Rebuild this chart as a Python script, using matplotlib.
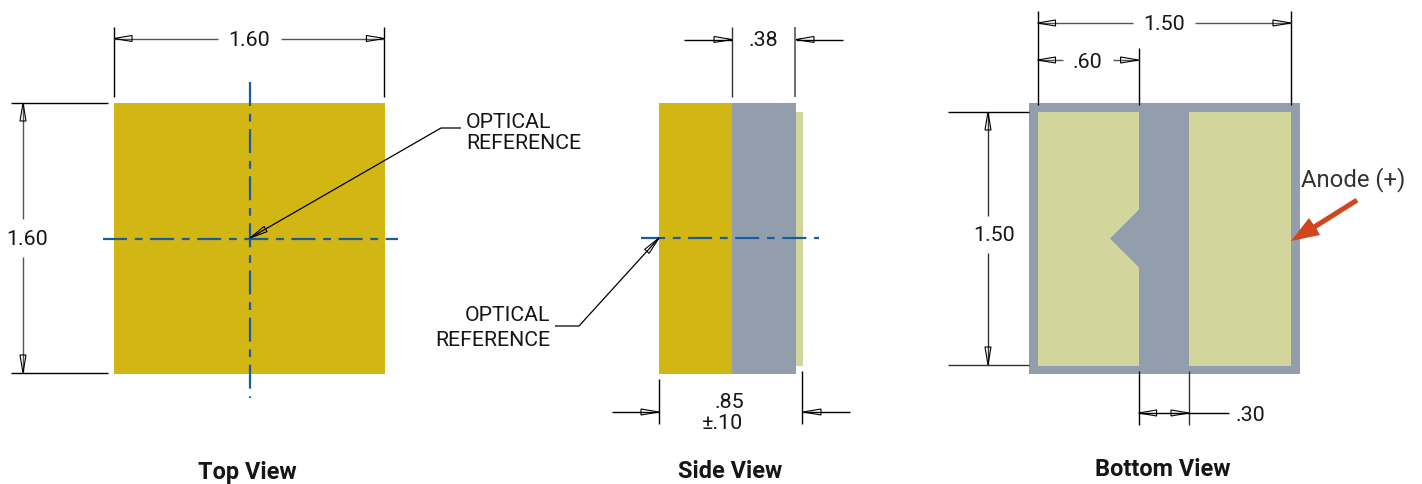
import matplotlib
matplotlib.use("Agg")
import matplotlib.pyplot as plt
from matplotlib.patches import Polygon, Rectangle
import numpy as np

plt.rcParams['font.family'] = ['Roboto', 'DejaVu Sans']

# Package dimensions (mm)
package_size = 1.60
side_total = 0.85
side_body = 0.38
side_pad = 0.04
pad_outer = 1.50
pad_left_w = 0.60
pad_gap = 0.30
# Labels
view_titles = ["Top View", "Side View", "Bottom View"]
dim_top = "1.60"
dim_side_body = ".38"
dim_side_total = ".85"
dim_side_tol = "±.10"
dim_pad_outer = "1.50"
dim_pad_left = ".60"
dim_pad_gap = ".30"
ref_lines = ["OPTICAL", "REFERENCE"]
anode_label = "Anode (+)"

GOLD, GRAY, PAD = "#D2B614", "#929EAC", "#D2D59C"
BLUE, RED, INK = "#1A5CA0", "#D2461E", "#161616"
S = 169.3             # pixels per mm
W, H = 1422, 485
FS = 15.4

fig = plt.figure(figsize=(W / 100, H / 100), dpi=100)
ax = fig.add_axes([0, 0, 1, 1])
ax.set_xlim(0, W)
ax.set_ylim(H - 1, -1)
ax.axis("off")


def rect(x, y, w, h, c, z=1):
    ax.add_patch(Rectangle((x, y), w, h, fc=c, ec="none", lw=0, zorder=z))


def line(xs, ys, lw=1.0, c="black", z=3):
    ax.plot(xs, ys, color=c, lw=lw, zorder=z, solid_capstyle="butt")


def head(tx, ty, dx, dy, L=18, hw=3.0):
    """Open triangular arrow head, tip at (tx, ty), pointing along (dx, dy)."""
    n = np.hypot(dx, dy)
    ux, uy = dx / n, dy / n
    bx, by = tx - ux * L, ty - uy * L
    pts = [(tx, ty), (bx - uy * hw, by + ux * hw), (bx + uy * hw, by - ux * hw)]
    ax.add_patch(Polygon(pts, closed=True, fc="none", ec="black", lw=0.8, zorder=4))


def label(x, y, s, ha="center", size=FS, **kw):
    kw.setdefault("color", INK)
    ax.text(x, y + 1, s, ha=ha, va="center", fontsize=size, zorder=5, **kw)


def center_line(xs, ys):
    ax.plot(xs, ys, color=BLUE, lw=1.6, zorder=3, dashes=(10.8, 3.5, 3.5, 3.4),
            dash_capstyle="butt")


# ---------- Top view ----------
tx, ty = 114, 103
side = package_size * S
rect(tx, ty, side, side, GOLD)
center_line([250, 250], [82, 398])
center_line([103, 398], [238.5, 238.5])

line([tx, tx], [27, 97])
line([tx + side - .5, tx + side - .5], [27, 97])
line([tx, 218], [38.5, 38.5], c="#555555")
line([281, tx + side - .5], [38.5, 38.5], c="#555555")
head(tx, 38.5, -1, 0)
head(tx + side - .5, 38.5, 1, 0)
label(249, 38, dim_top)

line([11, 108], [ty, ty])
line([11, 108], [373, 373])
line([23, 23], [ty, 219], c="#555555")
line([23, 23], [257, 373], c="#555555")
head(23, ty, 0, -1)
head(23, 373, 0, 1)
label(27, 238, dim_top)

line([250, 441, 461], [238, 128, 128], lw=0.9)
head(250, 238, -191, 110)
label(466, 120, ref_lines[0], ha="left", size=15.3)
label(466, 142, ref_lines[1], ha="left", size=15.3)

# ---------- Side view ----------
sx = 659
body_w = side_body * S
total_w = side_total * S
rect(sx, ty, total_w - body_w - side_pad * S, side, GOLD)
rect(sx + total_w - body_w - side_pad * S, ty, body_w, side, GRAY)
rect(sx + total_w - side_pad * S, 112, side_pad * S, pad_outer * S, PAD)
center_line([641, 819], [238, 238])

line([732, 732], [27, 97], c="#333333")
line([795, 795], [27, 97], c="#555555", lw=1.2)
line([684, 732], [39.5, 39.5])
line([796, 843], [39.5, 39.5])
head(732, 39.5, 1, 0)
head(796, 39.5, -1, 0)
label(763, 38, dim_side_body)

line([659, 579, 555], [238, 326, 326], lw=0.9)
head(659, 238, 80, -88)
label(550, 314, ref_lines[0], ha="right", size=15.3)
label(550, 339, ref_lines[1], ha="right", size=15.3)

line([659, 659], [379, 424])
line([802, 802], [371, 424])
line([612, 659], [412, 412])
line([803, 850], [412, 412])
head(659, 412, 1, 0)
head(803, 412, -1, 0)
label(729, 401, dim_side_total)
label(723, 422, dim_side_tol)

# ---------- Bottom view ----------
bx = 1029
rect(bx, ty, side, side, GRAY)
px = 1037.5
rect(px, 112, pad_left_w * S, pad_outer * S, PAD, z=2)
gap_x = px + pad_left_w * S
right_x = gap_x + pad_gap * S - .5
rect(right_x, 112, pad_outer * S - (right_x - px), pad_outer * S, PAD, z=2)
ax.add_patch(Polygon([(gap_x + .5, 209), (1110, 238.5), (gap_x + .5, 268)],
                     closed=True, fc=GRAY, ec="none", zorder=2.5))

right_edge = px + pad_outer * S
line([px, px], [11, 105])
line([right_edge - .5, right_edge - .5], [11, 105])
line([px, 1133], [23, 23], c="#555555")
line([1195, right_edge], [23, 23], c="#555555")
head(px, 23, -1, 0)
head(right_edge - .5, 23, 1, 0)
label(1164, 23, dim_pad_outer)

line([gap_x - .5, gap_x - .5], [48, 105])
line([px, 1063], [60, 60], c="#555555")
line([1113, gap_x], [60, 60], c="#555555")
head(px, 60, -1, 0)
head(gap_x - .5, 60, 1, 0)
label(1087, 60, dim_pad_left)

line([948, 1029], [112, 112])
line([948, 1029], [365, 365], c="#333333")
line([988, 988], [112, 216], c="#333333")
line([988, 988], [253, 365], c="#333333")
head(988, 112, 0, -1)
head(988, 365, 0, 1)
label(994, 234, dim_pad_outer)

line([gap_x - .5, gap_x - .5], [371, 425])
line([1189, 1189], [371, 425], c="#333333")
line([gap_x - .5, 1229], [413, 413])
head(gap_x - .5, 413, -1, 0)
head(1189, 413, 1, 0)
label(1250, 414, dim_pad_gap)

# Anode arrow
ax.add_patch(Polygon([(1291, 241), (1309, 218), (1313.5, 224.5), (1355.6, 198),
                      (1358.4, 202.2), (1316.5, 228.6), (1320, 235)],
                     closed=True, fc=RED, ec="none", zorder=4))
label(1353, 178, anode_label, color="#333333", size=17.2)

# Titles
for x, y, t in zip([247, 730, 1163], [471, 470, 468], view_titles):
    label(x, y, t, size=16.9, fontweight="bold")

fig.savefig("out.png", dpi=100)
